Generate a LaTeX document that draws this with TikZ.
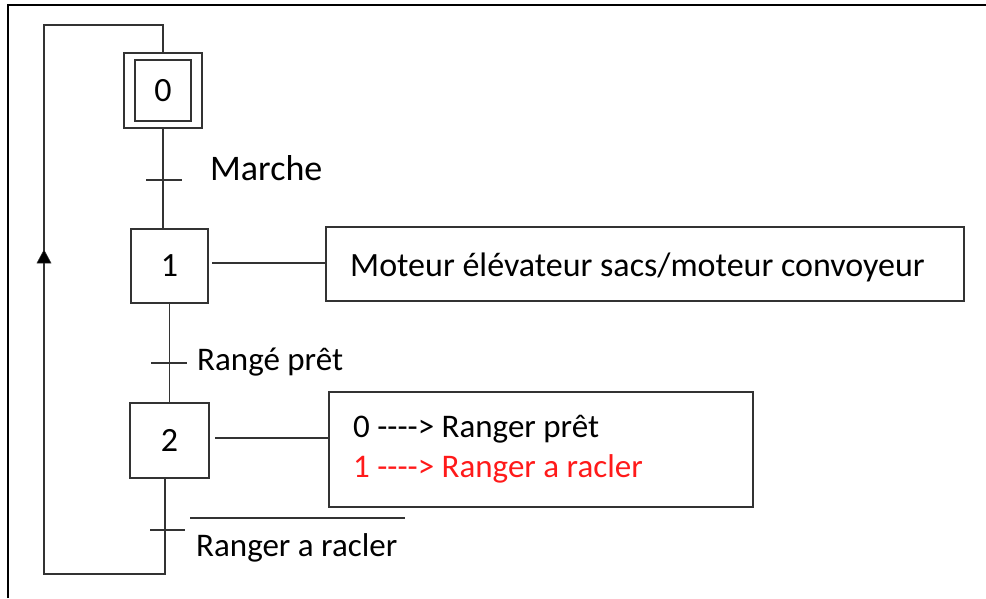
\documentclass[tikz,border=0pt]{standalone}
\usepackage{fontspec}
\setmainfont{Carlito}
\usetikzlibrary{arrows.meta}
\definecolor{ink}{HTML}{333333}
\definecolor{redtxt}{HTML}{FF1A1A}
\tikzset{
  lnk/.style={draw=ink, line width=1.4pt},
  stepbox/.style={draw=ink, line width=1.4pt, rectangle, inner sep=0pt, font=\fontsize{34}{40}\selectfont},
  actbox/.style={draw=ink, line width=1.4pt, rectangle, inner sep=0pt},
  lbl/.style={inner sep=0pt, font=\fontsize{33}{40}\selectfont},
}
\newcommand\dasharrow{{-}{-}{-}{-}>}
\begin{document}
\begin{tikzpicture}[x=1pt, y=-1pt]
\useasboundingbox (0,0) rectangle (986,598);
% frame
\draw[black, line width=2.5pt] (8,598) -- (8,5) -- (986,5);

% steps
\node[stepbox, minimum width=78pt, minimum height=75pt] (s0) at (163,90.5) {};
\node[stepbox, minimum width=56pt, minimum height=61pt] (s0i) at (163,90.5) {0};
\node[stepbox, minimum width=77pt, minimum height=74pt] (s1) at (169.5,266) {1};
\node[stepbox, minimum width=79pt, minimum height=75pt] (s2) at (169.5,440.5) {2};

% action boxes
\node[actbox, minimum width=638pt, minimum height=74pt] (a1) at (645,264) {};
\node[lbl, anchor=base west, font=\fontsize{34}{40}\selectfont] (a1t) at (350,276) {Moteur élévateur sacs/moteur convoyeur};
\node[actbox, minimum width=424pt, minimum height=115pt] (a2) at (541,449.5) {};
\node[lbl, anchor=base west] (a2a) at (353,437) {0 \dasharrow\ Ranger prêt};
\node[lbl, anchor=base west, text=redtxt] (a2b) at (353,477) {1 \dasharrow\ Ranger a racler};

% transitions
\coordinate (t1) at (163,180);
\coordinate (t2) at (169,363);
\coordinate (t3) at (165,530);
\draw[lnk] ([xshift=-17pt]t1) -- ([xshift=19pt]t1);
\draw[lnk] ([xshift=-18pt]t2) -- ([xshift=18pt]t2);
\draw[lnk] ([xshift=-15pt]t3) -- ([xshift=20pt]t3);
\node[lbl, anchor=base west, font=\fontsize{36}{42}\selectfont] (c1) at (210,180) {Marche};
\node[lbl, anchor=base west] (c2) at (197,370) {Rangé prêt};
\node[lbl, anchor=base west] (c3) at (196,556) {Ranger a racler};
\coordinate (ob) at (190,518);
\draw[lnk] (ob) -- (405,518);

% links between steps
\draw[lnk] (s0.south) -- (s0.south |- s1.north);
\draw[lnk] (s1.south) -- (s2.north);
\draw[lnk] (s2.south -| t3) -- (165,574) -- (44,574) -- (44,25)
  -- (163,25) -- (s0.north);
\draw[ink, fill=black, line width=0.5pt] (44,250) -- (37,263) -- (51,263) -- cycle;

% action links
\coordinate (l1) at (212,263);
\coordinate (l2) at (215,438);
\draw[lnk] (l1) -- (a1.west |- l1);
\draw[lnk] (l2) -- (a2.west |- l2);
\end{tikzpicture}
\end{document}
